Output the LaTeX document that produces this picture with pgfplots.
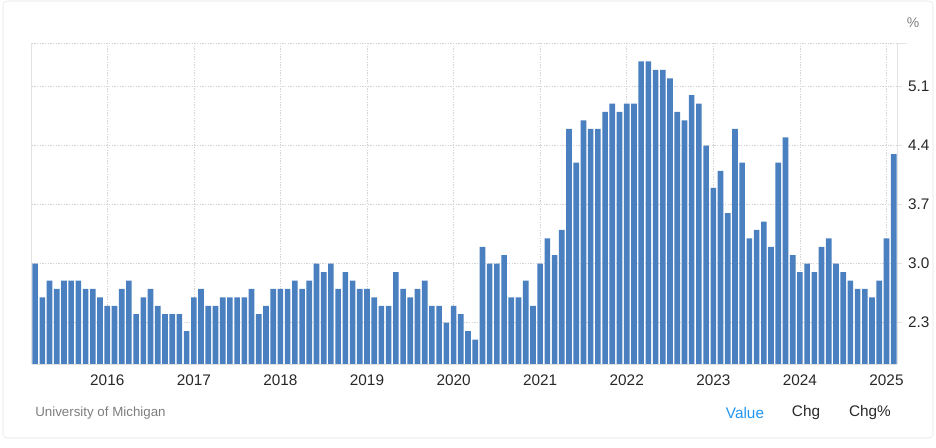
\documentclass[border=0pt]{standalone}
\usepackage{pgfplots}
\usepackage{pgfplotstable}
\pgfplotsset{compat=1.18}
\usepackage{fontspec}
\setmainfont{Liberation Sans}

\definecolor{barblue}{RGB}{74,127,192}
\definecolor{gridgray}{RGB}{212,212,212}
\definecolor{framegray}{RGB}{226,226,226}
\definecolor{ticktext}{RGB}{40,40,40}
\definecolor{srcgray}{RGB}{125,125,125}
\definecolor{linkblue}{RGB}{33,150,243}

% monthly values, Mar 2015 .. Feb 2025
\pgfplotstableread{
v
3.0
2.6
2.8
2.7
2.8
2.8
2.8
2.7
2.7
2.6
2.5
2.5
2.7
2.8
2.4
2.6
2.7
2.5
2.4
2.4
2.4
2.2
2.6
2.7
2.5
2.5
2.6
2.6
2.6
2.6
2.7
2.4
2.5
2.7
2.7
2.7
2.8
2.7
2.8
3.0
2.9
3.0
2.7
2.9
2.8
2.7
2.7
2.6
2.5
2.5
2.9
2.7
2.6
2.7
2.8
2.5
2.5
2.3
2.5
2.4
2.2
2.1
3.2
3.0
3.0
3.1
2.6
2.6
2.8
2.5
3.0
3.3
3.1
3.4
4.6
4.2
4.7
4.6
4.6
4.8
4.9
4.8
4.9
4.9
5.4
5.4
5.3
5.3
5.2
4.8
4.7
5.0
4.9
4.4
3.9
4.1
3.6
4.6
4.2
3.3
3.4
3.5
3.2
4.2
4.5
3.1
2.9
3.0
2.9
3.2
3.3
3.0
2.9
2.8
2.7
2.7
2.6
2.8
3.3
4.3
}\expect

\begin{document}
\begin{tikzpicture}[x=0.75pt,y=0.75pt]
\path[use as bounding box] (0,0) rectangle (936,448);
\draw[framegray, rounded corners=3pt] (3,10) rectangle (933,447);

\begin{axis}[
  name=ax,
  at={(23.625pt,62.775pt)}, anchor=south west,
  scale only axis, width=649.35pt, height=240.75pt,
  xmin=-0.5, xmax=119.5,
  ymin=1.806, ymax=5.615,
  axis line style={draw=none},
  grid=major,
  major grid style={gridgray, dash pattern=on 1pt off 1pt},
  xtick={10,22,34,46,58,70,82,94,106,118},
  xticklabels={2016,2017,2018,2019,2020,2021,2022,2023,2024,2025},
  xtick style={draw=none},
  ytick={2.3,3.0,3.7,4.4,5.1},
  ytick pos=right, yticklabel pos=right,
  tick align=outside,
  ytick style={framegray, line width=0.6pt},
  major tick length=3.5pt,
  /pgf/number format/fixed,
  /pgf/number format/fixed zerofill,
  /pgf/number format/precision=1,
  /pgf/number format/assume math mode=true,
  ticklabel style={font=\fontsize{11.5}{13}\selectfont, text=ticktext},
  xticklabel style={yshift=-1pt},
  yticklabel style={xshift=1pt},
]
\addplot[ybar, bar width=0.78, bar shift=0pt, fill=barblue, draw=none]
  table[x expr=\coordindex, y=v] {\expect};
\end{axis}

\draw[framegray, line width=0.6pt] (ax.south west) -- (ax.north west);
\draw[framegray, line width=0.6pt] (ax.south east) -- (ax.north east);
\draw[framegray, line width=0.6pt] (ax.south west) -- (ax.south east);
\draw[framegray, line width=0.6pt] (ax.north east) -- ++(7.5pt,0);
\draw[gridgray, dash pattern=on 1pt off 1pt] (ax.north west) -- (ax.north east);

\node[text=srcgray, anchor=mid] at (913,424) {\fontsize{10.5}{12}\selectfont \%};
\node[text=srcgray, anchor=west, inner sep=0] at (35,35) {\fontsize{10}{12}\selectfont University of Michigan};
\node[text=linkblue, inner sep=0] at (745,35) {\fontsize{11.5}{13}\selectfont Value};
\node[text=ticktext, inner sep=0] at (806,35) {\fontsize{11.5}{13}\selectfont Chg};
\node[text=ticktext, inner sep=0] at (870,35) {\fontsize{11.5}{13}\selectfont Chg\%};
\end{tikzpicture}
\end{document}
